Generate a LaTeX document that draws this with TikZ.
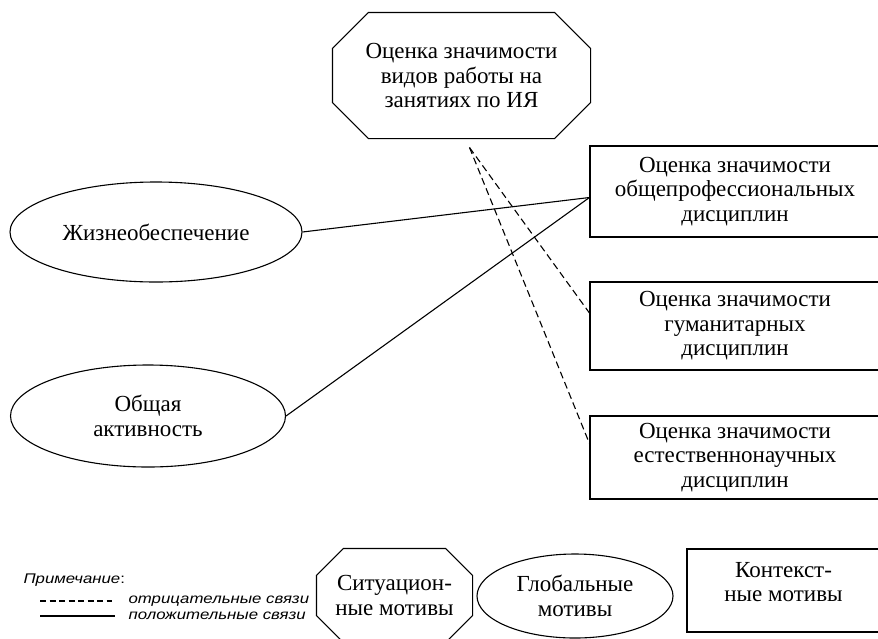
\documentclass[tikz,border=0pt]{standalone}
\usepackage{fontspec}
\usepackage{graphicx}
\setmainfont{Liberation Serif}
\setsansfont{Liberation Sans}
\usetikzlibrary{shapes.geometric}

% octagon outline round a named node: #1 node, #2 cut
\newcommand{\octframe}[2]{%
  \draw ([xshift=#2]#1.north west) -- ([xshift=-#2]#1.north east)
    -- ([yshift=-#2]#1.north east) -- ([yshift=#2]#1.south east)
    -- ([xshift=-#2]#1.south east) -- ([xshift=#2]#1.south west)
    -- ([yshift=#2]#1.south west) -- ([yshift=-#2]#1.north west) -- cycle;}

\begin{document}
\begin{tikzpicture}[x=1pt,y=-1pt,line width=1.1pt,
  every node/.style={align=center, inner sep=0pt,
     font=\fontsize{23}{24.5}\selectfont},
  box/.style={draw, rectangle, minimum width=290pt, minimum height=#1},
  oval/.style={draw, ellipse},
  neg/.style={dash pattern=on 7pt off 4pt},
  note/.style={font=\fontsize{14}{15}\sffamily\itshape}]
\useasboundingbox (0,0) rectangle (878,638);

\node [minimum width=257pt, minimum height=125pt] (work) at (461.5,75.5)
  {Оценка значимости\\видов работы на\\занятиях по ИЯ};
\octframe{work}{36pt}

\node [box=91pt] (prof) at (735,191.5)
  {Оценка значимости\\общепрофессиональных\\дисциплин};
\node [box=88pt] (hum) at (735,326)
  {Оценка значимости\\гуманитарных\\дисциплин};
\node [box=83pt] (nat) at (735,457.5)
  {Оценка значимости\\естественнонаучных\\дисциплин};

\node [oval, minimum width=292pt, minimum height=100pt] (life) at (156,232)
  {Жизнеобеспечение};
\node [oval, minimum width=275pt, minimum height=102pt] (act) at (148,416)
  {Общая\\активность};

\coordinate (src) at ([xshift=8pt,yshift=-9pt]work.south);
\draw (life.east) -- ([yshift=-6pt]prof.west);
\draw (act.east) -- ([yshift=-6pt]prof.west);
\draw [neg] (src) -- ([yshift=13pt]hum.west);
\draw [neg] (src) -- ([yshift=14pt]nat.west);

% legend
\node [note, anchor=west] (remark) at (23,580) {\scalebox{1.2}[1]{\textit{Примечание}\upshape:}};
\node [note, anchor=west] (negtext) at (128,601) {\scalebox{1.2}[1]{отрицательные связи}};
\node [note, anchor=west] (postext) at (128,616) {\scalebox{1.2}[1]{положительные связи}};
\coordinate (nega) at (40,601);
\coordinate (posa) at (40,616);
\draw [dash pattern=on 6pt off 3.5pt] (nega) -- ([xshift=-16pt]negtext.west);
\draw (posa) -- ([xshift=-13pt]postext.west);

\node [minimum width=155pt, minimum height=93pt] (sit) at (394.5,595.5)
  {Ситуацион-\\ные мотивы};
\octframe{sit}{27pt}
\node [oval, minimum width=196pt, minimum height=84pt] (glob) at (575,596)
  {Глобальные\\мотивы};
\node [box=83pt, minimum width=193pt] (ctx) at (783.5,590.5) {};
\node [anchor=north] (ctxtext) at ([yshift=-13pt]ctx.north) {Контекст-\\ные мотивы};
\end{tikzpicture}
\end{document}
